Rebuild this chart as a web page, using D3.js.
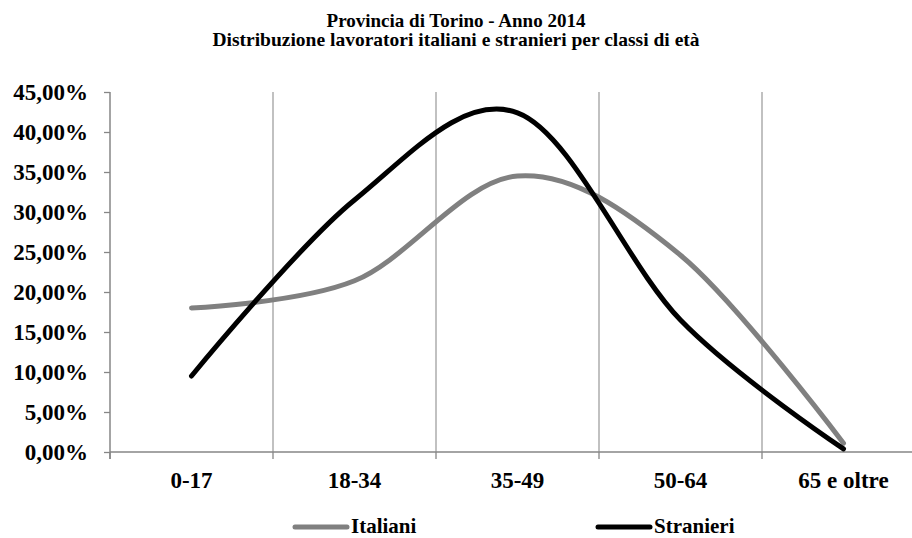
<!DOCTYPE html>
<html>
<head>
<meta charset="utf-8">
<script src="https://cdn.jsdelivr.net/npm/d3@7"></script>
<style>
    body { margin: 0; background: #ffffff; }
    svg.chart text { font-family: "Liberation Serif", "Times New Roman", serif; font-weight: bold; fill: #000000; }
</style>
</head>
<body>
<svg class="chart"></svg>
<script>
//
// Line chart of Italian and foreign workers by age class, drawn with D3.
//

var categories = ["0-17", "18-34", "35-49", "50-64", "65 e oltre"]; // Age classes on the x axis.
var italiani = [18.0, 21.4, 34.5, 24.6, 1.1]; // Percent share, Italian workers.
var stranieri = [9.5, 31.5, 42.4, 16.5, 0.4]; // Percent share, foreign workers.
var yTicks = [0, 5, 10, 15, 20, 25, 30, 35, 40, 45]; // Tick values of the y axis.
var titleLines = ["Provincia di Torino - Anno 2014", "Distribuzione lavoratori italiani e stranieri per classi di età"];

var series = [
    { name: "Italiani", values: italiani, color: "#808080" },
    { name: "Stranieri", values: stranieri, color: "#000000" }
];

window.onload = function () {

    var width = 912;
    var height = 538;
    var margin = { top: 92, right: -13, bottom: 86, left: 110 }; // Plot runs a little past the right edge, as in the original.
    var axisColor = "#868686";

    var svg = d3.select("svg.chart")
        .attr("width", width)
        .attr("height", height);

    var x = d3.scaleBand() // One band per age class.
        .domain(categories)
        .range([margin.left, width - margin.right]);

    var y = d3.scaleLinear()
        .domain([0, 45])
        .range([height - margin.bottom, margin.top]);

    var fmt = function (d) { return d3.format(".2f")(d).replace(".", ",") + "%"; }; // Italian decimal comma.

    // title
    svg.append("g").selectAll("text")
        .data(titleLines)
        .enter().append("text")
            .attr("x", width / 2)
            .attr("y", function (d, i) { return 27 + i * 19; })
            .attr("text-anchor", "middle")
            .style("font-size", function (d, i) { return i ? "19.5px" : "19px"; })
            .text(function (d) { return d; });

    // vertical gridlines at band boundaries, with ticks below the axis
    var bounds = categories.map(function (c) { return x(c); });
    svg.append("g").selectAll("line")
        .data(bounds.slice(1))
        .enter().append("line")
            .attr("x1", function (d) { return d; })
            .attr("x2", function (d) { return d; })
            .attr("y1", y(45))
            .attr("y2", y(0))
            .attr("stroke", "#a0a0a0")
            .attr("stroke-width", 1.3);

    // x axis
    var xAxis = svg.append("g")
        .attr("transform", "translate(0," + y(0) + ")");
    xAxis.append("line")
        .attr("x1", margin.left)
        .attr("x2", width - margin.right)
        .attr("stroke", axisColor)
        .attr("stroke-width", 1.5);
    xAxis.selectAll("line.tick")
        .data(bounds)
        .enter().append("line")
            .attr("class", "tick")
            .attr("x1", function (d) { return d; })
            .attr("x2", function (d) { return d; })
            .attr("y1", 0)
            .attr("y2", 7)
            .attr("stroke", axisColor)
            .attr("stroke-width", 1.3);
    xAxis.selectAll("text")
        .data(categories)
        .enter().append("text")
            .attr("x", function (d) { return x(d) + x.bandwidth() / 2; })
            .attr("y", 36)
            .attr("text-anchor", "middle")
            .style("font-size", "23px")
            .text(function (d) { return d; });

    // y axis
    var yAxis = svg.append("g")
        .attr("transform", "translate(" + margin.left + ",0)")
        .call(d3.axisLeft(y).tickValues(yTicks).tickFormat(fmt).tickSize(6).tickPadding(16));
    yAxis.select(".domain")
        .attr("stroke", axisColor)
        .attr("stroke-width", 1.5)
        .attr("d", "M0," + y(45) + "V" + (y(0) + 7));
    yAxis.selectAll(".tick line")
        .attr("stroke", axisColor)
        .attr("stroke-width", 1.3);
    yAxis.selectAll(".tick text")
        .style("font-size", "23px")
        .attr("fill", "#000000");

    // smoothed lines
    var line = d3.line()
        .x(function (d, i) { return x(categories[i]) + x.bandwidth() / 2; })
        .y(function (d) { return y(d); })
        .curve(d3.curveCatmullRom.alpha(0));

    svg.append("g").selectAll("path")
        .data(series)
        .enter().append("path")
            .attr("d", function (s) { return line(s.values); })
            .attr("fill", "none")
            .attr("stroke", function (s) { return s.color; })
            .attr("stroke-width", 5)
            .attr("stroke-linecap", "round")
            .attr("stroke-linejoin", "round");

    // legend
    var legendX = [293, 596]; // Left end of each legend swatch.
    var legend = svg.append("g").selectAll("g")
        .data(series)
        .enter().append("g")
            .attr("transform", function (s, i) { return "translate(" + legendX[i] + ",527)"; });
    legend.append("line")
        .attr("x1", 2)
        .attr("x2", 54)
        .attr("stroke", function (s) { return s.color; })
        .attr("stroke-width", 5)
        .attr("stroke-linecap", "round");
    legend.append("text")
        .attr("x", 58)
        .attr("y", 6)
        .style("font-size", "21px")
        .text(function (s) { return s.name; });
};
</script>
</body>
</html>
